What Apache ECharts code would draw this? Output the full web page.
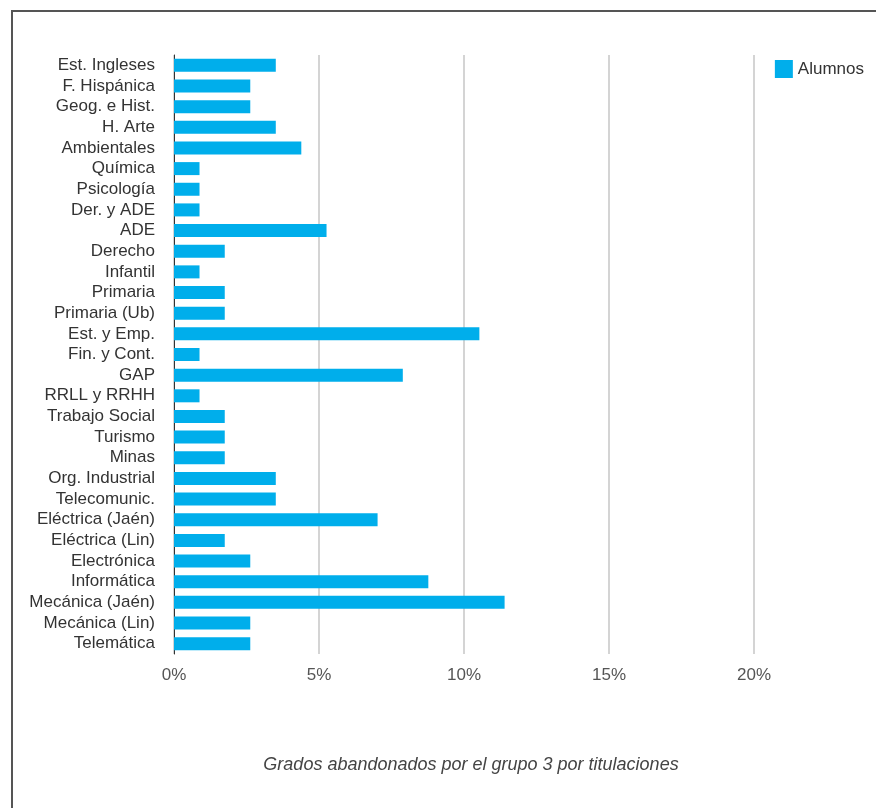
<!DOCTYPE html>
<html>
<head>
<meta charset="utf-8">
<script src="https://cdn.jsdelivr.net/npm/echarts@6/dist/echarts.min.js"></script>
<style>
  html, body { margin: 0; padding: 0; background: #ffffff; }
  .frame {
    position: absolute; left: 11px; top: 10px; width: 865px; height: 798px;
    border-top: 2px solid #555; border-left: 2px solid #555;
  }
  #chart { position: absolute; left: 0; top: 0; width: 876px; height: 808px; }
</style>
</head>
<body>
<div class="frame"></div>
<div id="chart"></div>
<script>
// titulaciones (de arriba a abajo)
const categorias = [
  'Est. Ingleses', 'F. Hispánica', 'Geog. e Hist.', 'H. Arte', 'Ambientales',
  'Química', 'Psicología', 'Der. y ADE', 'ADE', 'Derecho', 'Infantil',
  'Primaria', 'Primaria (Ub)', 'Est. y Emp.', 'Fin. y Cont.', 'GAP',
  'RRLL y RRHH', 'Trabajo Social', 'Turismo', 'Minas', 'Org. Industrial',
  'Telecomunic.', 'Eléctrica (Jaén)', 'Eléctrica (Lin)', 'Electrónica',
  'Informática', 'Mecánica (Jaén)', 'Mecánica (Lin)', 'Telemática'
];
// % de alumnos que abandonan
const alumnos = [
  3.51, 2.63, 2.63, 3.51, 4.39,
  0.88, 0.88, 0.88, 5.26, 1.75, 0.88,
  1.75, 1.75, 10.53, 0.88, 7.89,
  0.88, 1.75, 1.75, 1.75, 3.51,
  3.51, 7.02, 1.75, 2.63,
  8.77, 11.40, 2.63, 2.63
];
const ticksX = [0, 5, 10, 15, 20];

let chart = echarts.init(document.getElementById('chart'));
let option = {
  animation: false,
  textStyle: { fontFamily: 'Liberation Sans, Arial, sans-serif' },
  title: {
    text: 'Grados abandonados por el grupo 3 por titulaciones',
    left: 466, top: 751, textAlign: 'center',
    textStyle: { fontSize: 18, fontStyle: 'italic', fontWeight: 'normal', color: '#444' }
  },
  legend: {
    data: ['Alumnos'],
    right: 7, top: 55,
    itemWidth: 18, itemHeight: 18, itemGap: 6,
    icon: 'rect',
    textStyle: { fontSize: 17, color: '#333' }
  },
  grid: { left: 174, right: 122, top: 55, bottom: 154, containLabel: false },
  xAxis: {
    type: 'value',
    min: ticksX[0], max: ticksX[ticksX.length - 1], interval: 5,
    axisLine: { show: false },
    axisTick: { show: false },
    splitLine: { lineStyle: { color: '#d4d4d4', width: 2 } },
    axisLabel: { formatter: '{value}%', fontSize: 17, color: '#555', margin: 13 }
  },
  yAxis: {
    type: 'category',
    data: categorias,
    inverse: true,
    axisLine: { lineStyle: { color: '#333', width: 1 } },
    axisTick: { show: false },
    axisLabel: { interval: 0, fontSize: 17, color: '#333', margin: 19 }
  },
  series: [{
    name: 'Alumnos',
    type: 'bar',
    data: alumnos,
    barWidth: 13,
    itemStyle: { color: '#00AEEB' }
  }]
};
chart.setOption(option);
</script>
</body>
</html>
